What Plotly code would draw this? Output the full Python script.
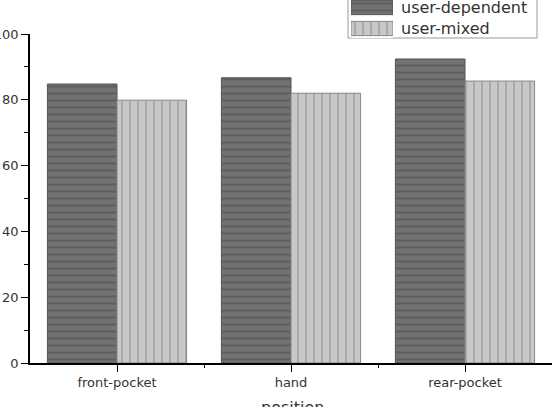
import plotly.graph_objects as go

categories = ["front-pocket", "hand", "rear-pocket"]
series_names = ["user-dependent", "user-mixed"]
user_dependent = [84.8, 86.7, 92.4]
user_mixed = [79.9, 82.0, 85.7]
y_ticks = [0, 20, 40, 60, 80, 100]
x_title = "position"

positions = list(range(len(categories)))
boundaries = [p + 0.5 for p in positions[:-1]]

W, H = 552, 407
L, R, T, B = 30, 0, 0, 44
plot_w = W - L - R
plot_h = H - T - B
y_top_px = 34

def px_x(px):
    return (px - L) / plot_w

def px_y(py):
    return (H - B - py) / plot_h

font_main = "DejaVu Sans"
text_col = "#333333"

dep_style = dict(color="#707070",
                 pattern=dict(shape="-", fgcolor="#4a4a4a", bgcolor="#727272", size=7, solidity=0.3),
                 line=dict(color="#555555", width=1))
mix_style = dict(color="#c6c6c6",
                 pattern=dict(shape="|", fgcolor="#8c8c8c", bgcolor="#c8c8c8", size=8, solidity=0.25),
                 line=dict(color="#888888", width=1))

fig = go.Figure()
fig.add_trace(go.Bar(x=positions, y=user_dependent, name=series_names[0], marker=dep_style,
                     showlegend=False))
fig.add_trace(go.Bar(x=positions, y=user_mixed, name=series_names[1], marker=mix_style,
                     showlegend=False))

# legend swatches (inset axes)
fig.add_trace(go.Bar(y=[series_names[0]], x=[1], orientation="h", marker=dep_style, width=0.68,
                     xaxis="x2", yaxis="y2", showlegend=False, hoverinfo="skip"))
fig.add_trace(go.Bar(y=[series_names[1]], x=[1], orientation="h", marker=mix_style, width=0.68,
                     xaxis="x2", yaxis="y2", showlegend=False, hoverinfo="skip"))

annotations = [dict(x=px_x(399), y=name, xref="paper", yref="y2", text=name,
                    xanchor="left", yanchor="middle", showarrow=False,
                    font=dict(family=font_main, size=16, color=text_col))
               for name in series_names]
annotations.append(dict(x=px_x(292), y=px_y(396), xref="paper", yref="paper", text=x_title,
                        xanchor="center", yanchor="top", showarrow=False,
                        font=dict(family=font_main, size=16, color=text_col)))

fig.update_layout(
    width=W, height=H,
    margin=dict(l=L, r=R, t=T, b=B),
    paper_bgcolor="white", plot_bgcolor="white",
    barmode="group", bargap=0.2, bargroupgap=0,
    font=dict(family=font_main, size=13, color=text_col),
    xaxis=dict(
        range=[-0.5, len(categories) - 0.5],
        tickvals=positions, ticktext=categories,
        ticks="outside", ticklen=7, tickwidth=1, tickcolor="black",
        minor=dict(tickvals=boundaries, ticks="outside", ticklen=3, tickcolor="black"),
        showline=True, linecolor="black", linewidth=1.5,
        showgrid=False, zeroline=False,
        tickfont=dict(family=font_main, size=13, color=text_col),
        automargin=False,
    ),
    yaxis=dict(
        domain=[0, px_y(y_top_px)],
        range=[0, 100],
        tickvals=y_ticks,
        ticks="outside", ticklen=7, tickwidth=1, tickcolor="black",
        minor=dict(dtick=10, ticks="outside", ticklen=4, tickcolor="black"),
        showline=True, linecolor="black", linewidth=1.5,
        showgrid=False, zeroline=False,
        tickfont=dict(family=font_main, size=13, color=text_col),
        automargin=False,
    ),
    xaxis2=dict(domain=[px_x(351), px_x(393)], anchor="y2", range=[0, 1], visible=False),
    yaxis2=dict(domain=[px_y(38), 1], anchor="x2", type="category",
                categoryorder="array", categoryarray=series_names,
                range=[1.452, -0.357], visible=False),
    shapes=[dict(type="rect", xref="paper", yref="paper",
                 x0=px_x(348), x1=px_x(537), y0=px_y(38), y1=px_y(-6),
                 line=dict(color="#9a9a9a", width=1), fillcolor="white", layer="below")],
    annotations=annotations,
)

fig.write_html("out.html")
